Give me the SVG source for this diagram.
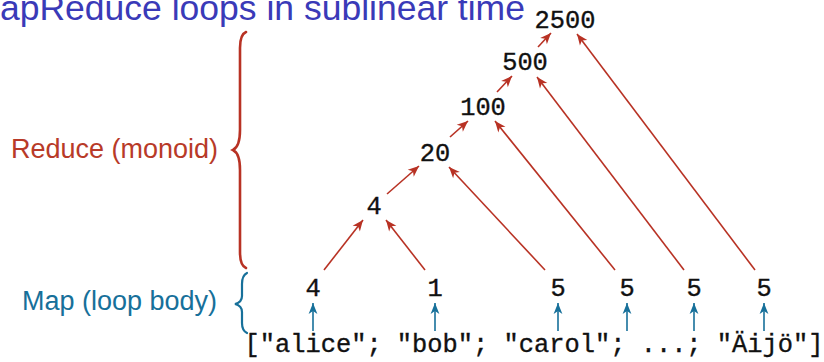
<svg xmlns="http://www.w3.org/2000/svg" width="824" height="362" viewBox="0 0 824 362">
<style>
.title{font-family:"Liberation Sans",Arial,sans-serif;font-size:35.5px;fill:#3a3ab8}
.lbl{font-family:"Liberation Sans",Arial,sans-serif;font-size:27px}
.red{fill:#b83a28}
.blue{fill:#17709a}
.num{font-family:"Liberation Mono","Courier New",monospace;font-size:25.4px;fill:#111;stroke:#111;stroke-width:0.35;text-anchor:middle}
.list{font-family:"Liberation Mono","Courier New",monospace;font-size:25.4px;fill:#111;stroke:#111;stroke-width:0.35}
.rl{stroke:#b83224;stroke-width:1.6;fill:none}
.bl{stroke:#17709a;stroke-width:1.6;fill:none}
.brace-r{stroke:#b83224;stroke-width:2.6;fill:none;stroke-linecap:round}
.brace-b{stroke:#17709a;stroke-width:2.2;fill:none;stroke-linecap:round}
</style>
<defs>
<marker id="ar" viewBox="-12 -6 13 12" refX="0" refY="0" markerWidth="13" markerHeight="12" markerUnits="userSpaceOnUse" orient="auto">
<path d="M0,0 L-11,-4.6 L-8,0 L-11,4.6 Z" fill="#b83224"/>
</marker>
<marker id="ab" viewBox="-12 -6 13 12" refX="0" refY="0" markerWidth="13" markerHeight="12" markerUnits="userSpaceOnUse" orient="auto">
<path d="M0,0 L-11,-4.4 L-8,0 L-11,4.4 Z" fill="#17709a"/>
</marker>
</defs>

<text class="title" x="0" y="20">apReduce loops in sublinear time</text>

<g id="reduce-label">
<text class="lbl red" x="11" y="158">Reduce (monoid)</text>
<path class="brace-r" d="M246,32 C241,34 240,40 240,48 L240,130 C240,143 237,148 233,150 C237,152 240,157 240,170 L240,252 C240,260 241,266 246,268"/>
</g>
<g id="map-label">
<text class="lbl blue" x="22" y="310">Map (loop body)</text>
<path class="brace-b" d="M247,273 C243,275 242,279 242,284 L242,296 C242,301 239,303 235,304 C239,305 242,307 242,312 L242,323 C242,328 243,331 247,333"/>
</g>

<g id="n2500"><text class="num" x="565" y="28">2500</text></g>
<g id="n500"><text class="num" x="525" y="70">500</text></g>
<g id="n100"><text class="num" x="483" y="115">100</text></g>
<g id="n20"><text class="num" x="435" y="161">20</text></g>
<g id="n4mid"><text class="num" x="374" y="214">4</text></g>

<g id="leaf1"><text class="num" x="313" y="296">4</text></g>
<g id="leaf2"><text class="num" x="435" y="296">1</text></g>
<g id="leaf3"><text class="num" x="558" y="296">5</text></g>
<g id="leaf4"><text class="num" x="627" y="296">5</text></g>
<g id="leaf5"><text class="num" x="694" y="296">5</text></g>
<g id="leaf6"><text class="num" x="764" y="296">5</text></g>

<g id="input"><text class="list" x="244.5" y="352" xml:space="preserve">["alice"; "bob"; "carol"; ...; "Äijö"]</text></g>

<g id="connectors">
<line class="rl" x1="324" y1="270" x2="363" y2="220" marker-end="url(#ar)"/>
<line class="rl" x1="425" y1="270" x2="386" y2="220" marker-end="url(#ar)"/>
<line class="rl" x1="387" y1="194" x2="419" y2="166" marker-end="url(#ar)"/>
<line class="rl" x1="545" y1="270" x2="449" y2="167" marker-end="url(#ar)"/>
<line class="rl" x1="450" y1="137" x2="468" y2="121" marker-end="url(#ar)"/>
<line class="rl" x1="615" y1="270" x2="495" y2="121" marker-end="url(#ar)"/>
<line class="rl" x1="497" y1="92" x2="512" y2="76" marker-end="url(#ar)"/>
<line class="rl" x1="684" y1="270" x2="537" y2="77" marker-end="url(#ar)"/>
<line class="rl" x1="538" y1="47" x2="551" y2="33" marker-end="url(#ar)"/>
<line class="rl" x1="755" y1="270" x2="577" y2="34" marker-end="url(#ar)"/>

<line class="bl" x1="313" y1="331" x2="313" y2="303" marker-end="url(#ab)"/>
<line class="bl" x1="435" y1="331" x2="435" y2="303" marker-end="url(#ab)"/>
<line class="bl" x1="558" y1="331" x2="558" y2="303" marker-end="url(#ab)"/>
<line class="bl" x1="627" y1="331" x2="627" y2="303" marker-end="url(#ab)"/>
<line class="bl" x1="694" y1="331" x2="694" y2="303" marker-end="url(#ab)"/>
<line class="bl" x1="764" y1="331" x2="764" y2="303" marker-end="url(#ab)"/>
</g>
</svg>
